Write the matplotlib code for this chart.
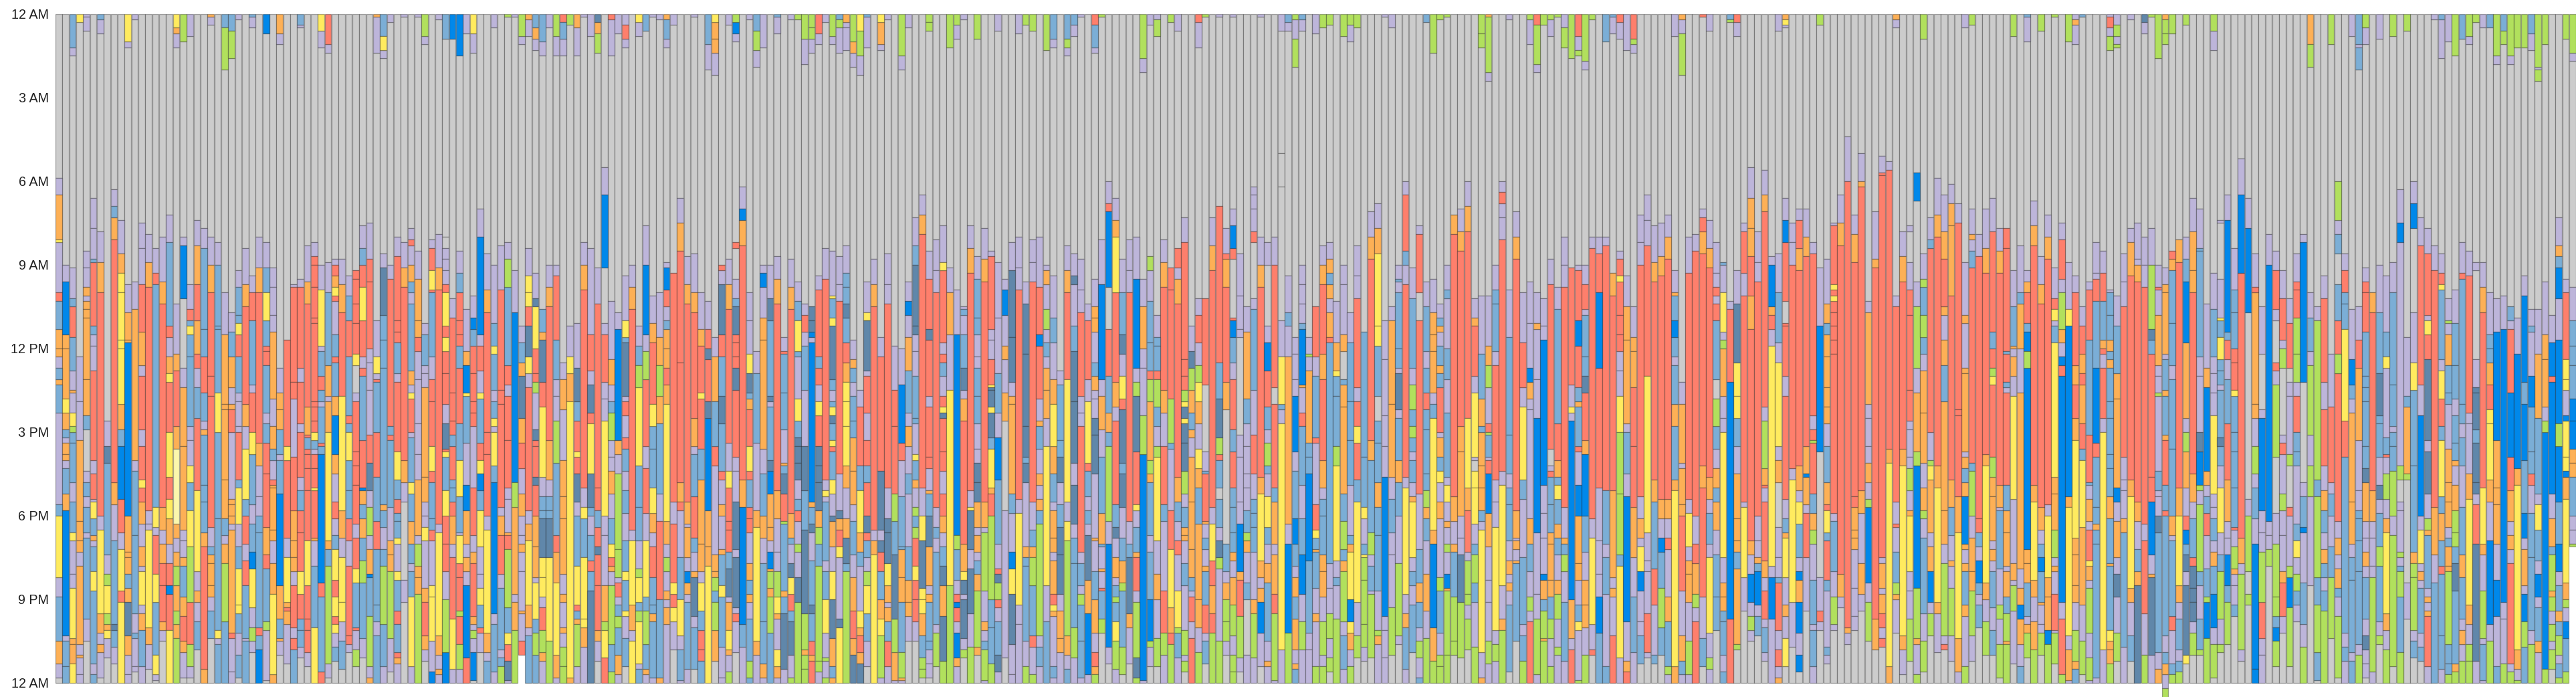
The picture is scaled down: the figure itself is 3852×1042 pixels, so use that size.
import numpy as np
import matplotlib
matplotlib.use('Agg')
import matplotlib.pyplot as plt

hour_ticks = [0, 3, 6, 9, 12, 15, 18, 21, 24]
hour_labels = ['12 AM', '3 AM', '6 AM', '9 AM', '12 PM', '3 PM', '6 PM', '9 PM', '12 AM']

block_colors = {
    'G': '#cccccc', 'L': '#bdb5da', 'O': '#fdb056', 'R': '#fe7f6c', 'B': '#7baed6',
    'Y': '#ffeb5f', 'D': '#0088ea', 'N': '#b1e05d', 'S': '#6087aa', 'P': '#fbf7ad',
}

# one string per day: category letter + end of block in tenths of an hour
day_blocks = [
"G59 L65 O81 Y82 L100 R103 B113 O120 O123 L127 B131 O133 B143 L176 B180 Y202 L209 B225 O233 L238 G240",
"G90 L96 D115 O120 O138 Y143 O149 B152 L154 O158 O160 L163 B172 O178 D223 L225 B234 B240",
"B12 L15 G91 L102 B105 R116 B128 L135 O136 L143 Y148 N150 B154 B168 L175 B186 Y189 L201 L206 Y224 O226 O233 Y240",
"Y3 G123 L139 L153 O182 O189 O193 L198 O226 L230 O231 L237 L240",
"L1 L6 G85 L91 L98 O101 L103 O106 O109 O131 O144 B149 G164 L168 B173 L177 B186 L188 B217 L225 G240",
"G66 L77 L88 B89 R112 B115 L119 L128 R160 L165 R174 L175 Y181 B187 O189 L191 B200 Y207 B233 L237 B240",
"B2 L7 G78 L89 O100 R180 L185 Y215 O222 L226 O229 L238 G240",
"G146 L155 S161 B194 L201 N205 Y215 N219 O221 Y224 L231 G240",
"G63 L69 B73 O81 R168 O176 L189 B219 S221 B227 L233 G240",
"G74 L86 O93 Y100 Y117 Y120 Y140 O149 B155 D174 R186 L192 Y207 R211 Y240",
"Y10 L12 G97 L107 O117 O118 D180 O193 O195 O201 B206 O211 S223 O230 L237 L240",
"L2 G96 L106 O160 L164 B187 B215 L222 B224 L234 L236 G240",
"G75 L84 L97 R114 O126 L130 R149 L155 R167 Y170 R175 O183 L191 O198 L200 Y212 L215 O221 B234 L240",
"G79 L89 O98 R178 L183 L185 Y220 O226 L235 G240",
"G84 L93 R97 B177 Y184 L187 R201 Y211 B230 Y237 L239 G240",
"G80 L96 O104 R177 O185 L190 O197 R205 R218 O221 L225 G240",
"G72 L82 B112 R116 L123 O129 Y132 R150 Y166 R174 Y181 O190 L197 R205 D208 R221 Y240",
"Y5 O7 L12 G104 L122 O128 R148 O156 P183 O188 L193 O198 N205 O214 N219 O224 N240",
"N10 G80 L83 D102 G127 L134 O155 O185 L189 L195 O198 B209 O216 R225 O229 L238 G240",
"L8 G97 L106 R110 B112 Y115 B123 B148 L153 L162 Y168 B178 Y191 N211 R226 N234 L238 G240",
"G74 L83 O97 R110 O122 R127 L134 B145 R171 Y200 L207 O211 L218 B228 G240",
"G77 L84 B113 B123 R136 B146 L149 O151 B169 B175 B186 O191 R235 O240",
"O1 L4 G80 L90 O100 R130 R137 R184 L191 B194 O197 O205 O209 L214 B224 G240",
"G82 L90 B112 B113 B136 Y150 B181 B221 Y224 L226 B240",
"B5 N20 G100 L115 O140 O142 O167 O181 B187 L190 O197 N218 B240",
"B6 N16 G107 L114 B123 O134 L140 O142 R150 L174 O176 O180 O183 L185 O222 R224 L236 L240",
"L2 G92 L98 B108 B111 Y115 R123 B136 L139 L148 L150 R167 B170 Y183 L191 B199 Y212 Y215 B222 L230 B238 G240",
"G84 L97 O105 R140 O148 L156 Y174 B180 R190 L196 R205 B224 L225 B240",
"B1 L5 G94 L100 R110 B133 L136 R150 Y158 B176 L183 B193 D199 Y213 L220 N225 L229 G240",
"G80 L91 O100 R154 O162 L173 L180 B186 B220 R223 B228 D240",
"D7 G82 L91 B100 Y110 B119 R121 R126 B143 L147 B154 R165 R184 O194 R199 B218 N221 L239 G240",
"G91 L98 L108 L114 O138 L148 O156 B160 L167 R169 O170 O185 O189 L197 O208 Y237 O240",
"O7 L11 G127 L136 O142 O149 B158 L160 B172 D205 O217 B224 O225 L230 G240",
"G117 R155 Y160 R188 L195 Y211 O213 R214 O219 L233 G240",
"G97 L98 R132 R138 L159 R178 O189 O195 O200 L205 R220 L224 R228 B240",
"B4 L5 G95 L98 R127 L132 R147 L150 R166 L171 B178 R186 R200 Y208 R217 B221 B227 L231 G240",
"G83 L96 O104 R141 O151 R152 B156 R158 R163 R171 R189 Y205 R217 R221 R229 L234 G240",
"G82 L87 R90 R98 R109 R111 R139 R141 R146 R150 Y153 B156 L158 R163 R170 Y171 R188 O189 L198 B220 Y240",
"Y6 L12 G90 L99 Y119 L121 B130 R135 B139 L141 B154 R155 B158 D204 R209 B236 R240",
"R11 L14 G89 L100 B126 O137 L139 O150 Y189 O192 B198 N233 L238 G240",
"G88 L90 R94 O98 Y101 R103 L115 B123 R125 B137 O144 D158 O165 L175 R181 L187 B192 Y203 R209 Y216 R219 Y222 L227 B232 G240",
"G88 L97 O107 R137 Y178 O188 L195 Y211 Y218 L225 B235 G240",
"G94 L101 B110 R123 B144 R147 B150 Y160 B171 B181 R189 L198 R223 R226 L229 G240",
"G92 R95 R104 R111 R122 Y126 G136 L139 R157 R162 R169 R183 L188 R199 Y204 B220 R221 L228 N234 G240",
"G76 L84 B90 R98 Y110 R123 L127 R130 B153 R170 D171 O176 B181 O188 B196 N204 B224 L231 G240",
"G75 L88 R96 R120 L125 L135 L151 R161 S171 L177 N187 L192 O201 D202 B216 N234 L238 O240",
"O1 L14 G110 L123 Y129 L131 R132 B150 R166 B182 R192 B212 B218 L223 B240",
"B8 Y13 L16 G86 L91 S108 B117 B127 B176 O178 B184 L192 B198 N219 B234 L240",
"L3 G90 L95 R148 B151 R153 B177 L189 O194 O200 N224 L236 G240",
"G80 L87 R110 R114 R118 B129 L132 R157 Y167 B174 R179 B182 B188 Y190 L200 Y203 B214 R219 B229 R231 O233 L240",
"L1 G82 L91 O98 R160 O168 L175 G203 L211 G240",
"G77 L81 R83 L90 O96 B100 L104 B128 O133 L136 Y138 R150 L152 B168 Y172 B182 O190 B197 L200 B209 Y234 L240",
"L1 G85 L95 O110 O116 R121 L131 L147 L158 L167 O187 L190 N198 O202 O208 N240",
"N8 L11 G111 L115 B126 L129 L134 O166 O175 L180 L184 Y189 L206 O211 R223 O228 L232 G240",
"G81 L84 R92 Y99 R100 B123 L131 R139 R155 Y164 R168 B181 B185 R189 L205 Y209 Y225 L236 D240",
"L2 G79 L91 O99 R183 L186 Y223 O230 L235 O237 L240",
"B9 G80 G84 L88 L92 L97 R100 Y112 R116 Y121 R129 R140 L147 S156 R157 Y159 B171 Y180 R190 R200 L210 N229 D240",
"D9 G102 L109 R136 R146 R151 B155 R167 B170 B175 R180 O190 L195 R217 Y235 L240",
"D15 G85 L93 B100 R110 R115 R119 B127 R147 B160 Y173 B186 L187 Y197 R202 R214 N216 R226 N235 L240",
"L7 G106 L121 O126 D136 Y137 B154 L169 D178 O190 L195 O200 L205 D231 R240",
"Y7 L14 G101 L109 D113 B119 R129 R139 R143 R148 L170 R187 L193 O197 R216 O219 L221 N224 L229 D239 G240",
"G70 L80 D115 L119 R128 L136 Y138 B154 R160 Y165 D171 B178 Y191 L201 L206 Y212 B220 R222 L229 G240",
"G86 L99 O107 R150 R158 R180 L185 Y222 O229 L232 B240",
"L5 G90 L111 B119 Y122 B135 L139 B145 Y148 L150 Y162 B168 D215 L219 B236 L240",
"G83 L99 R135 R140 R177 L180 O187 R201 L206 B228 L231 B234 N240",
"N1 G82 L88 N98 B126 R133 L137 R153 R170 L174 L186 O187 R192 N213 B222 Y226 R232 S239 L240",
"L1 G92 L107 D168 N177 O208 L211 O221 N240",
"N8 L11 G112 L118 B125 O130 S145 O154 R163 L172 O180 L187 L190 O193 L200 L214 O215 L225 R230",
"O2 L8 G84 L94 Y100 Y105 R112 S123 Y129 L134 R178 L183 O189 Y212 O220 L223 B240",
"B5 O9 L13 G93 L102 S105 Y120 R129 R132 N136 L149 S153 R155 R166 S169 R180 O191 O202 L204 Y217 B222 N230 B240",
"B10 L15 G106 B114 O117 S132 R141 Y166 L173 B178 B181 S195 Y202 Y209 L213 R221 N229 O232 L240",
"L5 G90 L98 O105 R153 O167 L173 B178 B181 S195 Y225 N240",
"N8 L15 G90 L94 R117 B131 L137 L146 N161 B187 R193 O204 Y230 O238 L240",
"R3 B9 L15 G125 L131 O142 L160 O173 O181 O201 L208 O211 L220 O222 L227 N234 N240",
"N4 G112 L123 Y129 O139 Y238 O240",
"O5 L15 G111 L127 S139 B146 R157 Y159 R165 S175 L180 B198 Y212 R214 B217 O219 N234 L240",
"L1 G82 L90 O99 R170 L177 Y181 B195 Y217 Y220 O227 L240",
"L8 G84 L115 R128 L133 S143 R147 Y165 S177 B180 L187 B196 R200 B207 S240",
"S3 O7 N14 G91 L104 R170 R178 B184 R191 S194 R205 R221 O225 L232 G240",
"G55 L65 D91 G111 L115 R132 L138 L146 Y180 L187 L205 O218 N221 Y231 R240",
"R2 L15 G103 L124 O133 L139 B143 N153 L159 L164 O172 L181 B190 Y195 R198 O200 L205 N226 B236 N240",
"L7 G107 L113 D153 O158 L165 N192 N202 L204 R209 L212 B216 N220 B230 O237 L240",
"L4 R9 L12 G94 L110 Y116 B118 S137 L139 R144 L152 R156 B164 L171 B179 L189 B200 Y203 B214 Y216 L224 B234 G240",
"G90 L98 O106 R185 L189 Y212 O221 L225 Y240",
"Y3 L8 G112 L119 B126 N134 Y162 B177 B189 L199 N202 Y211 B214 N218 Y233 L235 B240",
"B6 G76 L90 D115 L121 N131 R155 L163 R179 L189 Y209 B214 N226 B235 O237 L240",
"L1 G101 L111 O118 R140 Y148 B156 B170 Y179 O186 L191 R202 B212 B215 O218 B238 L240",
"L2 G100 L116 O126 N137 O147 B172 L182 R210 B238 O240",
"O2 B9 L12 G89 L91 D99 R105 L110 B113 O120 O127 R133 O140 Y182 O190 L195 N200 L207 O210 L213 O219 L240",
"L4 G93 R175 L183 R204 Y208 R213 Y218 L228 G240",
"G66 L75 O85 R125 R168 O175 R178 L195 B210 Y223 L228 B239 L240",
"G87 L97 O104 R175 O183 L184 O195 L200 D204 O208 L211 B235 L240",
"L1 G86 L100 O107 R145 O155 L158 B173 R188 B193 L200 O202 S216 L220 B235 G240",
"G100 L113 O119 R136 Y138 R156 B167 O190 O200 L204 Y214 B221 R228 R232 B240",
"B11 L20 G103 L113 R120 S124 R139 S145 D178 O191 O198 Y240",
"Y3 O9 O14 L22 G116 L123 O139 B155 R162 L194 O200 O202 N207 B211 N221 O232 G240",
"G90 R92 L97 S115 R123 B137 S147 B164 R167 L176 O180 L192 O194 B205 Y209 B227 L238 L240",
"L4 G88 L97 O106 R154 L164 Y170 R182 R185 R193 B199 S209 L211 O221 Y228 O230 L236 N240",
"N3 D7 L10 G82 R84 G95 L102 B105 S115 R118 R123 R127 S135 R159 L164 L175 S192 L195 S213 L215 R218 L229 G240",
"G62 L70 D74 O83 R167 O177 D219 B227 L240",
"L2 G100 L110 L122 Y129 S136 B138 O142 R155 Y164 R167 B177 R181 R186 L197 O203 B208 O211 L217 B232 N238 B240",
"B6 N13 L19 G121 L129 B154 L178 O184 Y225 O230 L240",
"L12 G90 L93 D98 L109 O117 O156 L165 B180 O188 L197 B218 B233 O238 L240",
"G90 L102 S110 B137 S139 L141 B160 S164 D172 O184 O189 L193 D199 O200 N206 O209 N222 B240",
"B1 L7 G87 L95 O104 R171 O181 L193 L200 N209 Y215 O217 L228 Y234 O238 L240",
"G116 L121 R122 B136 B149 L161 O162 B165 S172 R182 N183 B207 O209 B215 S235 L240",
"L2 G88 L98 O106 R179 O188 B190 L197 S202 Y208 R214 B218 S230 L238 N240",
"N2 G96 L103 B110 Y121 B123 L138 Y146 B152 S155 S161 S167 L174 B178 R182 L190 N193 L202 S211 N240",
"N9 L18 G104 L108 R114 L119 B135 L155 S171 B185 S215 N228 O230 N235 N240",
"N5 N9 L14 G105 S110 S114 D116 L118 D175 O177 B183 S186 L196 B212 S215 B225 R230 O232 R240",
"R7 L11 G94 L99 R123 B127 R133 L139 Y144 R155 S162 S168 S178 O184 N190 B198 N232 N236 L240",
"L3 G84 L95 R167 L171 Y173 L175 B196 L200 B210 Y222 L231 N232 L238 N240",
"N8 L11 G85 L101 Y102 B109 Y112 S131 B135 L139 B141 Y144 S147 B153 Y155 R157 B167 Y172 L180 S182 O191 L200 Y210 S224 O234 B238 O240",
"B2 N5 L14 G87 L97 L103 R165 L178 S181 O185 R191 Y195 L217 S220 Y240",
"O3 L5 L13 G83 L93 B98 B104 S109 B118 R125 O132 Y139 Y148 Y162 O170 L181 O188 S197 B200 N240",
"N10 O14 L19 G117 L124 O127 B132 L137 B146 B152 O164 O176 L182 B194 L202 O214 R224 O230 S240",
"Y6 N15 L22 G135 L141 R162 B171 Y186 O193 B198 L214 Y220 O223 R229 O233 S240",
"B1 L12 G96 L107 Y110 S128 L130 R143 L153 R162 B168 R180 S186 R189 B195 L200 N205 Y215 B225 L234 G240",
"G88 L97 O105 R185 L189 O194 Y240",
"Y3 O11 L13 G116 L123 R164 S185 L189 S193 R200 B210 O217 Y223 N238 L240",
"L2 G86 L97 L104 R170 L181 S186 S197 Y205 O211 L213 O218 B225 R234 L240",
"G119 L135 R148 R172 N182 B194 S217 N229 O239 L240",
"N15 L20 G120 L133 D154 R160 L173 B191 B192 O202 O211 B229 N238 O239 L240",
"L5 G96 L103 D108 L116 O128 B143 L148 O155 L165 B172 L191 B203 O211 O216 L225 G240",
"G73 L83 B90 S112 S115 L121 L130 B145 B147 L158 Y160 B167 O170 L177 N180 B184 N188 R198 Y203 R210 R218 L225 G240",
"G65 L72 O79 R170 L180 Y189 S206 Y210 Y215 O223 B231 N235 N238 G240",
"N3 N6 G85 L95 R113 S117 R137 L141 R159 R163 L171 O172 B180 S191 O205 L208 O211 B225 B228 L233 L238 G240",
"G81 L92 L100 R177 L184 B188 L193 B219 L222 N234 G240",
"G76 L89 Y92 R118 L122 R125 B130 L137 R141 Y143 S145 R157 R164 L172 R180 O186 L191 B198 S205 O216 S232 N240",
"N12 G91 L100 O115 L135 Y205 N240",
"N4 L9 G99 L115 D187 N192 B203 L208 R211 D213 R218 L222 D231 O234 L240",
"L2 G105 L106 B108 L115 B127 S135 L138 O146 R190 O200 Y203 S208 L210 S224 L228 N231 G240",
"G76 L84 O93 R171 L177 Y178 S192 L199 S215 L227 N240",
"N9 G87 L95 B109 B115 L123 L127 B137 B147 L156 L161 S168 S175 O184 L187 O193 L196 B201 O207 N227 O230 G240",
"G77 L88 O96 R175 O184 L186 N207 L218 O221 L225 B228 N239 L240",
"G85 L87 R113 L117 L124 R133 Y134 S135 S141 Y143 S152 B156 Y170 O172 R180 N210 B220 B233 N240",
"L6 G89 L109 L129 B143 L152 D167 B190 L199 R201 S204 N210 R213 L218 B230 S236 L240",
"G95 L99 D108 L119 O124 L136 O146 G178 L231 G240",
"G82 L92 S116 S132 L137 O140 O172 B179 L193 D199 Y208 S226 L237 L240",
"L7 G80 L91 L99 R174 L179 Y212 L219 L240",
"N4 G96 L104 S122 S148 S159 B161 S168 L191 O195 B198 B225 L234 N240",
"N6 G81 L89 L96 R175 L185 B191 O195 N205 B223 R227 L237 N240",
"G80 L98 R115 D119 R138 L146 O148 B156 L165 O169 L174 O178 B183 N223 L227 B234 L240",
"N13 G90 L92 O97 L106 N113 L118 B123 L127 O135 O145 L155 Y205 L218 B240",
"B9 L12 G94 L109 B118 L131 O140 Y155 O165 B175 L178 O188 O193 L196 O208 R212 Y214 O216 L234 B238 L240",
"G128 L133 B153 B159 S168 L176 B184 S194 S208 L214 O224 O229 L240",
"B9 N12 L15 G83 L92 O100 R131 Y175 L182 Y189 N223 O230 L235 B240",
"B4 L8 G86 L94 S97 L112 B121 S139 S161 L169 S183 L188 B197 B220 N231 L240",
"L1 G88 L99 L107 R137 L143 L148 R193 L197 B205 L208 N212 B225 B238 L240",
"G104 L110 R131 L139 Y161 R164 B173 L178 B183 L187 S203 O215 D237 L240",
"R4 B12 L14 G95 L105 O109 O114 L125 B130 O135 L138 L145 S151 S165 L188 O189 L200 B210 O222 L229 R234 O237 N240",
"N1 G81 L97 D131 L137 O149 L159 B179 O190 B191 L199 O200 L206 R207 B217 N222 G240",
"G60 L68 R71 D98 G113 R130 B143 O150 B155 N182 L190 D227 L233 G240",
"G66 L74 O80 Y100 R132 O141 L146 R176 B184 S188 L195 O202 L205 B209 N211 B218 Y225 N235 L240",
"G88 L100 B115 S122 L130 Y138 R142 S161 B165 S177 L188 B196 O204 N207 B227 N237 G240",
"G81 L92 L100 R182 L190 B195 S215 O220 L233 G240",
"G80 L95 D127 L132 N137 S157 R176 Y178 L184 B193 O195 R207 L211 N231 S238 N240",
"N16 L21 G95 L105 O120 L127 L144 N158 D239 L240",
"L4 G87 N92 L103 B118 B128 R131 N139 O160 N165 O168 B187 L193 B210 D225 N227 L234 G240",
"L2 N8 G108 L116 B119 B128 R131 N141 B148 L155 N159 Y189 L201 O210 L224 N234 G240",
"G81 L89 O98 R135 O143 L155 R176 B182 L207 R222 N230 L240",
"N3 G91 R99 R138 N154 B156 L178 R192 Y213 O222 R226 N240",
"L6 G84 R91 L95 O104 R166 O175 B182 L189 R194 L207 Y220 N222 B231 L240",
"G73 L82 R124 R130 R135 N139 Y141 S145 Y147 S154 S164 N172 L177 B184 O187 O189 L197 B205 L221 N230 L232 N236 G240",
"G112 L121 S127 N135 O143 B149 O152 L159 O175 O192 O202 B207 L209 R218 L224 R240",
"R3 L12 G102 L108 R118 L126 N132 Y139 O147 L156 Y163 O170 B183 O210 O220 L229 N240",
"N1 G102 R133 G157 L164 B165 R182 O183 L188 B192 L198 O200 B212 R222 L225 B233 G240",
"G73 L83 O92 R177 L183 Y196 R205 O215 R222 N240",
"L1 G69 R125 B138 S152 N158 R160 B170 G174 B184 L189 S195 N199 L225 N240",
"G77 L86 R88 O98 R132 O142 G190 B200 L204 O210 N218 N225 L230 G240",
"L1 G70 L76 D84 R88 G109 R110 D116 B125 L131 R149 B157 R170 B177 B186 B193 O196 L202 O212 N223 L230 N236 N240",
"G86 L101 L113 L116 G151 L159 L175 L183 D200 O203 R216 N231 L236 G240",
"G105 L114 O138 B147 L155 L165 L170 L178 B186 N189 O193 L204 B210 G230 L240",
"G62 L65 L70 L78 R82 G102 L106 B135 L151 R165 L174 B179 B184 B193 L210 O215 N231 L240",
"L1 G80 L90 O98 R166 O172 Y196 O202 L206 O211 D222 L234 G240",
"G82 L90 G112 L118 D128 R141 B149 L154 N162 B165 L173 Y184 B190 L197 O204 B225 L232 O234 L240",
"G80 L90 R134 G140 R170 B175 O190 L194 O208 R215 N239 L240",
"L6 G50 G62 G110 L123 Y140 B142 L147 Y228 L240",
"B3 L6 G94 L107 B112 L123 O183 L190 D222 N240",
"N2 L9 N19 G116 L122 L131 L137 D157 L164 B181 D190 B198 L202 O209 B217 O228 L233 O235 B240",
"B2 L6 G90 L97 L104 L111 B113 D133 O134 L143 R148 B169 L181 B194 D208 L218 N228 L240",
"G116 L122 N123 L128 O154 B159 B165 D196 B222 L228 L240",
"L7 G105 R123 L130 B152 R154 L176 R185 Y188 B192 O193 B206 L215 O218 L234 N240",
"N5 G83 L90 O97 R122 O131 R160 O170 L174 B180 B194 O200 O209 L218 N230 L234 N240",
"N4 G82 L88 O93 B97 O102 L107 O116 R118 B197 L206 L215 N224 L231 N236 G240",
"G103 L118 O128 Y130 B137 B155 N162 Y196 L202 B205 L217 N240",
"N8 G90 L97 L115 O121 G131 B133 O141 O172 B182 N192 B196 O200 N218 L223 B235 L240",
"N4 L10 G107 L118 B139 B153 B169 L187 B190 O193 Y210 D218 Y222 O228 L234 N240",
"N5 G83 L94 L102 R134 L139 R148 Y154 R167 B175 Y211 L223 N231 G240",
"G114 B159 B177 Y181 L190 B194 Y195 N203 N219 N227 L232 G240",
"G71 L80 O88 R153 O160 B186 N194 L198 B207 L208 N231 G240",
"G68 L77 O86 Y112 Y119 B137 G146 B154 B168 O177 B187 B207 L221 N223 O226 L240",
"L1 G110 L124 L144 L155 L166 D216 L221 L231 L240",
"L5 G105 L110 O140 O166 L174 B186 L194 L213 N230 G240",
"G90 L95 B96 L100 B120 B127 L129 S142 L145 B160 O168 B180 L197 N223 L226 G240",
"G60 L65 R85 B90 L97 R166 L170 Y208 L215 O220 B235 L240",
"G91 L102 B127 L133 N142 B148 N152 B157 L160 B168 L173 O175 Y195 L200 B205 L212 B229 G240",
"G76 L79 R100 G110 R172 L192 B204 O211 B220 L225 N231 L238 B240",
"B3 G96 L105 B121 L127 B136 R142 B149 B165 B171 N177 O181 B189 L201 O214 L224 N240",
"N14 G95 L107 O115 O121 O136 L140 B145 Y185 O190 D220 O232 N240",
"N2 G104 L109 B112 O114 L119 B126 O129 B134 R150 L152 O159 B164 Y168 L175 O181 L202 N207 B222 L230 N234 N240",
"N1 G90 L99 B102 L120 B131 L143 B166 L169 Y175 L182 O184 L190 N193 L201 D206 O207 N230 N240",
"G72 O79 R173 O182 L190 O193 B209 N225 N230 G240",
"G70 L78 O85 R148 O157 O180 L188 L194 S211 N231 G240",
"G60 L69 O78 R145 Y170 O178 R193 L196 N208 N212 L217 N228 G240",
"G102 L109 O112 R130 L136 Y159 L160 G164 Y170 Y183 L190 B194 N204 B211 L227 N240",
"N7 N12 G101 L122 B138 O148 B150 O162 O170 O178 B182 L185 Y229 L238 O240",
"O1 N21 L24 G101 L119 O126 N134 L147 R150 N151 B159 L160 R165 D179 O191 L203 L211 L225 N233 L240",
"G90 L99 B104 B121 L126 R167 L175 L184 Y221 L226 N232 L240",
"G60 L64 R68 L73 L81 R164 L169 Y205 L217 O221 N240",
"L2 G99 L116 B151 B165 L170 B176 B189 L196 O201 L204 O207 L212 B236 G240",
"G71 L80 O88 R178 O188 L189 O192 L196 O197 B225 G240",
"G100 L118 R134 L141 Y167 B174 L195 B219 L223 B232 N240",
"N2 L11 G96 L111 L127 D132 O138 L142 L181 O190 B200 L209 N214 L218 R240",
"R4 N18 L21 G100 L111 O113 L131 L145 D186 L208 L217 N237 L240",
"N4 G102 L112 L117 D169 L179 L188 L201 D203 O210 B214 N224 O225 N240",
"N2 L8 G88 L97 R156 G162 L164 R166 B176 B186 O190 O203 O209 B217 N224 L234 N240",
"N1 G98 L106 B147 R160 O166 B169 Y174 B183 O188 B194 L203 O208 N217 L227 N230 L240",
"L5 N12 G80 L90 L98 R177 L188 O190 B194 N200 L211 B232 L240",
"N16 G91 R133 L141 Y143 L146 D210 O224 L228 R240",
"R8 L13 N15 G90 L92 R110 D119 R134 B139 O141 B155 R157 L169 D180 O197 O203 L212 B218 Y221 L239 N240",
"N17 L20 G90 L97 R106 L108 B123 B130 S136 R153 O158 D180 B193 L203 O212 O220 L230 N240",
"N2 G80 L84 R181 L188 Y219 L228 R230 G240",
"G80 L86 R100 D127 R170 L189 L201 L209 D222 B240",
"B10 G80 L83 R171 B190 L195 B208 L234 B240",
"B1 L7 G93 O101 R171 O202 L206 O209 L223 R240",
"R3 L9 G85 L88 R94 Y96 R108 R115 R121 L128 L137 Y150 N172 N194 B198 Y231 L240",
"L13 G94 L105 O117 O147 L150 B165 L173 D218 L232 O236 R240",
"R9 N11 L14 G105 L116 O121 O134 R155 R177 O195 L209 B229 L240",
"G72 L82 L90 R173 L181 O188 L191 Y200 D207 L218 L223 B233 G240",
"G65 L74 L83 R130 Y186 L196 L200 L215 R229 L231 G240",
"G76 L89 O96 R167 O175 B199 R212 L230 B233 G240",
"G75 L87 O94 R174 O181 L188 D193 B206 N220 B230 G240",
"G72 L80 O88 R174 O181 L188 R192 L209 O218 B234 N237 L240",
"L8 G92 L100 O101 B110 D116 B123 L126 B140 O148 B167 O171 Y234 O240",
"O2 L7 N22 G132 L140 O161 L163 O176 O180 R207 L223 O232 B237 L240",
"G80 L93 R174 L179 Y191 L196 O201 O211 L225 N237 L240",
"G79 L85 R180 L190 R197 O208 N213 L218 R240",
"R1 G70 L73 R78 O86 R162 O170 R209 L224 B234 G240",
"L6 G74 L84 O91 R166 O174 L179 B190 L195 Y222 L231 N235 L240",
"G82 L93 L98 R101 L104 R110 B131 G138 N148 B156 L163 O170 B175 O185 L194 B209 B221 G240",
"G89 B90 L100 Y114 L117 N120 O137 L145 L150 Y195 L204 O209 O214 B218 B230 L236 B240",
"B2 N3 G103 L106 R132 D217 R240",
"R3 L8 G92 L104 S125 Y137 Y145 B155 L165 O181 O189 O193 B199 O226 N228 G240",
"G75 L78 R93 L101 R175 L177 Y202 L214 G240",
"G55 L66 O77 O87 R101 O113 R189 O194 L201 D211 L216 N221 L225 G240",
"G78 L89 L96 R180 L189 L195 O197 B200 D212 L216 B223 G240",
"G56 L65 O71 R141 L146 N163 O169 R170 L175 R196 O202 L207 R217 L220 B229 L232 G240",
"G87 L90 D105 O108 R113 L119 Y198 L202 D217 L240",
"L6 G86 L100 B118 L125 Y155 L160 O168 G184 L195 L202 B204 R221 L228 R234 L238 O240",
"O2 Y4 L5 G66 L74 D82 R103 G111 R112 R130 L137 R174 L181 B186 O188 Y202 L212 O216 L224 Y234 G240",
"G75 L82 L90 R163 L167 Y211 L227 G240",
"G70 L74 R84 O92 R162 O171 L175 Y183 B195 L200 D203 O211 D222 L230 D236 G240",
"G70 L80 O87 R155 O165 D166 O176 L179 R195 L214 G240",
"G82 L86 R144 L149 R153 N154 R172 B179 O185 N190 L203 B219 L221 B234 L240",
"N4 G91 L112 D157 G202 L214 R218 L221 G240",
"G88 L104 O111 B115 O123 O134 O141 O147 L155 B168 O176 R178 Y186 B189 R203 B207 L227 B230 L233 G240",
"G75 L76 R97 Y99 R101 Y103 R107 R112 R117 R122 R179 L182 B200 L209 N219 L221 G240",
"G65 L75 O83 R201 O209 L213 G240",
"G44 L60 R220 O222 L226 G240",
"G72 L79 O89 R173 R177 O185 O188 O192 L206 L216 L221 G240",
"G50 L60 O62 R171 O179 L197 O208 L214 G240",
"G103 L107 O140 L145 L155 L161 O168 L174 N177 D204 L211 N225 G240",
"G71 L88 O91 R217 O228 G240",
"G51 L57 R58 R195 L197 O206 L208 O215 R220 L224 R227 G240",
"G53 L56 R156 O161 Y234 O240",
"O2 L5 G101 L105 R175 L183 R184 L193 B204 N208 O210 L222 G240",
"G78 L87 O96 R156 O162 Y223 O228 L237 G240",
"G76 L78 G89 L99 R108 R135 R146 L149 L159 L163 N171 L178 O180 Y200 L207 L217 N232 G240",
"G57 D67 G96 L105 N127 L136 O157 N162 D206 N224 O226 L237 N240",
"N9 G86 L95 N98 B108 N116 B122 L128 O143 O161 L170 O178 N181 L188 B215 L225 N236 G240",
"G73 L81 B84 R150 L160 N162 Y167 O186 L191 O200 D211 L215 N223 G240",
"G59 L72 O80 R162 O170 Y211 O215 L229 G240",
"G65 L78 O88 R105 O108 L117 O126 B139 O178 O190 L197 N223 L226 R228 G240",
"G61 L68 O76 O101 R167 O177 B187 L196 O198 L206 N223 L232 G240",
"G68 L75 R142 R144 R173 O186 Y224 O236 L240",
"L5 G89 L108 O111 L127 O129 O157 L159 O163 B168 O173 D190 O192 L197 O200 B212 O216 L234 N240",
"N4 G70 L79 O81 L85 B91 R161 B164 N180 L188 O200 O207 N223 L232 G240",
"G79 L87 R181 R186 B191 L196 D204 B208 L212 B220 G240",
"G70 L84 O93 R158 O162 Y204 O210 L218 N230 G240",
"G66 L78 R114 B120 R127 N130 Y133 R159 N166 O173 O189 L192 O196 L200 B213 L221 B230 G240",
"G77 L85 O93 R169 O177 L178 B199 L212 N217 L226 N238 G240",
"G77 R84 R121 B122 R132 B134 L136 R169 B178 O186 O198 L200 O209 B215 N225 O226 N240",
"N8 G92 L105 B119 O120 L123 O130 L137 Y174 L197 O203 L205 N214 L233 G240",
"G83 L100 B104 O120 L136 O199 L206 O212 D217 O226 L234 B240",
"B1 L10 G92 L96 O100 R111 B114 D121 N127 D192 O197 O204 B216 L219 O222 N231 G240",
"G67 L76 O83 R169 O175 Y203 O209 L218 O228 N240",
"N6 G87 L97 O104 R177 O185 L190 B195 D200 B211 O212 L219 L222 N230 G240",
"G72 L80 O88 R176 L180 Y202 O209 O221 D226 N240",
"N1 G91 L102 R106 Y110 L112 B118 Y166 O172 O185 N195 L198 O200 L208 R221 L222 N233 G240",
"G75 L81 R95 L100 N113 O118 L123 D126 R130 D211 L217 R237 N240",
"N10 G89 L106 Y112 D173 O177 Y223 L228 O239 L240",
"L2 O4 L11 G94 L100 R126 O133 R145 O153 Y188 O194 O205 O211 L221 N232 O235 B240",
"B1 G105 L112 R122 O129 R133 O147 R156 B160 Y184 O212 L225 N237 G240",
"G96 L99 R117 B151 R168 B169 L174 O182 L185 R196 Y198 O203 L206 N222 L231 N239 L240",
"G82 L93 L95 R103 B127 D154 R159 B177 B183 O185 B190 B238 L240",
"G85 L93 R103 B117 O120 R122 L127 R145 L150 Y228 L240",
"L1 R5 L8 N13 G99 L100 B108 B117 O121 B124 O127 B139 B145 B158 B163 B173 O181 B197 O198 B221 Y225 O228 O233 N240",
"L4 N8 L11 N12 G101 L112 B129 O138 O170 D175 L182 O195 L201 S209 L222 N232 G240",
"G86 L96 L105 R159 L167 L171 L181 O186 B227 L240",
"L2 G77 L82 O94 R167 O173 Y206 O211 L223 B232 G240",
"G75 L88 L90 O96 R175 O182 L192 B200 O205 S240",
"S3 L7 G80 L90 L98 R183 L189 R215 L230 N240",
"N1 G77 L90 N113 S117 B122 R166 R175 D194 L201 O202 S230 L240",
"N16 G90 L98 R99 L108 O126 L130 L136 N137 L164 B171 L173 L180 S186 B229 L235 O240",
"O2 N7 N11 G91 L97 O100 O122 L124 B135 O137 B151 O153 R169 B178 R180 B223 L229 B233 O237 L242 N250",
"N7 G85 R88 O92 B111 B126 L131 B156 B180 O187 L189 B216 R221 L233 B237 N240",
"G81 O89 R170 O180 Y205 O211 L217 B228 L232 B236 N240",
"N4 G80 L88 B96 D118 O145 L150 N157 O170 L180 R185 D190 B194 S200 L205 S230 Y233 G240",
"G66 L78 O92 O100 R165 O175 L181 B195 R198 S206 S211 S218 L222 N230 G240",
"G70 L84 B85 B123 L130 L150 S157 D169 N171 L176 N200 B205 L217 B228 N230 G240",
"G104 L127 O134 D164 O169 L173 B179 R187 L199 B209 N211 D224 N240",
"N6 L13 G93 L106 B123 L129 L136 L144 Y172 L177 L181 B189 L193 O198 B208 D220 L226 N238 G240",
"G74 L75 G95 L109 Y110 B116 Y124 B128 B133 L135 B152 S155 B162 L170 Y186 L194 B200 N217 L226 N229 G240",
"G65 L74 D114 B117 R124 L131 B147 R167 O182 L188 L194 D205 B211 N226 G240",
"G84 L99 B107 B120 R125 R135 Y137 B150 B157 B170 B184 R185 L191 N199 O201 L205 L212 B216 G240",
"G52 L65 D93 R188 O197 L201 N228 L232 G240",
"G66 L77 D107 G174 L180 N200 G208 N212 G240",
"G86 L98 R100 O140 O145 L155 N165 L170 B181 L190 D235 D240",
"G105 L122 G142 L145 D178 L186 L193 N211 R224 L230 L240",
"G79 L90 D182 L187 L192 N198 G240",
"G85 L92 R106 L110 G125 R128 L133 N159 G179 L190 N209 N216 B220 D225 N234 G240",
"G92 L102 R117 L120 N127 G151 L154 R158 L172 N178 L187 L200 O204 R216 L222 G240",
"G102 L111 R127 G132 L137 L158 N162 G177 R180 L198 N202 D213 N234 G240",
"G86 L96 R99 R109 N122 N132 L137 R150 B157 B162 L183 B189 Y195 L201 N207 B212 L218 G240",
"G79 L82 D132 G168 L173 B184 D186 L204 B219 L227 N240",
"O11 N19 G100 L109 B121 L126 N151 L162 N173 L205 G240",
"G105 L110 N167 B173 N202 B212 N229 B239 G240",
"G94 L102 R132 L142 R162 L171 O178 B186 L192 O197 B202 L207 B214 N240",
"N11 G122 L141 R168 L172 B180 L191 B202 N224 G240",
"G60 N74 L79 B86 G97 B110 R122 N129 R182 L188 O194 L199 O206 B209 L216 N238 G240",
"G86 L92 R100 B104 B113 Y146 R159 B222 L227 B232 L240",
"L8 G106 L124 D133 B138 L143 O175 O190 L195 B203 B229 L232 B240",
"B11 L12 B20 G105 L117 R127 O153 L171 L178 B181 B189 B200 B226 L230 N240",
"N5 L11 G91 L96 R100 R114 B130 B134 B139 B155 B163 S168 O182 L188 L193 O198 L202 B217 L223 S228 L233 L238 G240",
"G100 O107 R171 O182 L188 L198 L202 N236 L240",
"L9 G90 L107 B129 S144 B147 B159 L169 S174 L179 B191 N198 B218 L223 N226 G240",
"G94 L114 B123 Y127 L152 B158 R159 L165 N174 L181 O186 Y215 O221 L228 N240",
"N8 G89 L100 B133 B148 L150 B155 B164 N180 L187 N234 G240",
"G63 L75 D82 L162 N167 G175 L178 L193 N195 L198 B200 N209 B229 N240",
"N6 G116 L137 B141 O165 N167 G204 L217 G240",
"G60 L68 D77 G107 L125 Y135 B162 B193 O197 N202 N221 L225 B231 G240",
"G73 L83 R133 L144 D180 L185 Y197 L200 O203 L206 B222 L227 B232 G240",
"G77 L86 R108 L110 Y115 R124 S153 L157 S172 L181 N185 O187 B206 L209 O211 L214 O216 R234 L240",
"L2 G83 L92 R177 O194 L204 B240",
"B2 L16 G86 L93 R97 Y99 B124 L128 Y138 R148 B153 Y173 B179 O189 B198 R201 B223 B235 L240",
"L10 G102 L110 N111 L115 O126 B136 B140 L156 O168 O175 O184 L188 B191 O198 O200 N226 B233 B237 N240",
"N15 G99 L111 B126 B138 L144 B154 B160 O162 L169 O178 N186 N191 B197 S207 B233 O236 N240",
"B9 G82 L93 R95 B140 B147 L152 B162 L177 B194 O202 B217 L221 O226 L232 N240",
"N8 L11 G85 L94 R143 L147 L165 O174 Y212 O219 L226 N232 N240",
"N3 G89 L92 G124 L134 S136 S149 B154 S168 S172 L176 R190 S232 L240",
"L5 G89 L98 O107 R170 Y190 O194 L207 N224 L226 B239 L240",
"B5 G100 L115 B120 B125 O133 R142 Y147 Y167 O175 L189 D219 L225 N240",
"N15 L18 G102 L114 D153 O170 O176 O190 L203 D216 L234 B240",
"B6 N11 G101 L113 D211 L217 L233 N240",
"N15 L18 G105 B110 L113 R136 D159 R171 O182 L187 O192 L197 R233 L236 N240",
"N12 G109 L122 D163 O169 Y228 O235 L239 N240",
"N12 G94 L101 D132 B140 D160 B179 D188 L192 O205 L208 D218 N227 B240",
"B7 L13 G106 L112 B114 L130 D141 B157 B165 R169 L179 B195 B221 L226 N240",
"N19 L20 N24 G106 L122 O145 B172 L176 Y185 B196 L201 D209 L213 B225 O229 L240",
"N11 G96 L115 O124 O141 L146 N150 D235 N240",
"G108 L118 D130 R132 D172 L181 O191 B194 N207 O209 N214 L219 N225 L228 N235 G240",
"G73 L83 O87 B91 D102 L117 D147 N155 D175 B190 D200 L205 B214 O218 B223 N230 L233 B238 N240",
"N9 G95 L100 R124 Y131 Y135 L144 D146 Y159 Y164 D166 O174 Y204 O210 N213 L218 D224 B236 N240",
"N14 L17 G98 L110 B119 B126 B138 D146 D156 O161 O166 B180 L185 L190 N191",
]

print(len(day_blocks))

xs = {c: [] for c in block_colors}
starts = {c: [] for c in block_colors}
lengths = {c: [] for c in block_colors}
for day, line in enumerate(day_blocks):
    prev = 0.0
    for tok in line.split():
        end = int(tok[1:]) / 10
        if end > prev:
            xs[tok[0]].append(day)
            starts[tok[0]].append(prev)
            lengths[tok[0]].append(end - prev)
            prev = end

W, H = 3852, 1042
fig = plt.figure(figsize=(W / 100, H / 100), dpi=100)
ax = fig.add_axes([82.7 / W, 1 - 1021 / H, (W - 82.7) / W, (1021 - 20.5) / H])

for c in block_colors:
    ax.bar(xs[c], lengths[c], bottom=starts[c], width=0.94, color=block_colors[c],
           edgecolor=(0, 0, 0, 0.32), linewidth=0.9, clip_on=False)

ax.set_xlim(-0.5, len(day_blocks) - 0.5)
ax.set_ylim(24, 0)
ax.set_xticks([])
ax.set_yticks(hour_ticks)
ax.set_yticklabels(hour_labels, fontfamily='Liberation Sans', fontsize=14.2, color='#222222')
ax.tick_params(axis='y', length=0, pad=7)
for s in ax.spines.values():
    s.set_visible(False)

fig.savefig('out.png', dpi=100)
